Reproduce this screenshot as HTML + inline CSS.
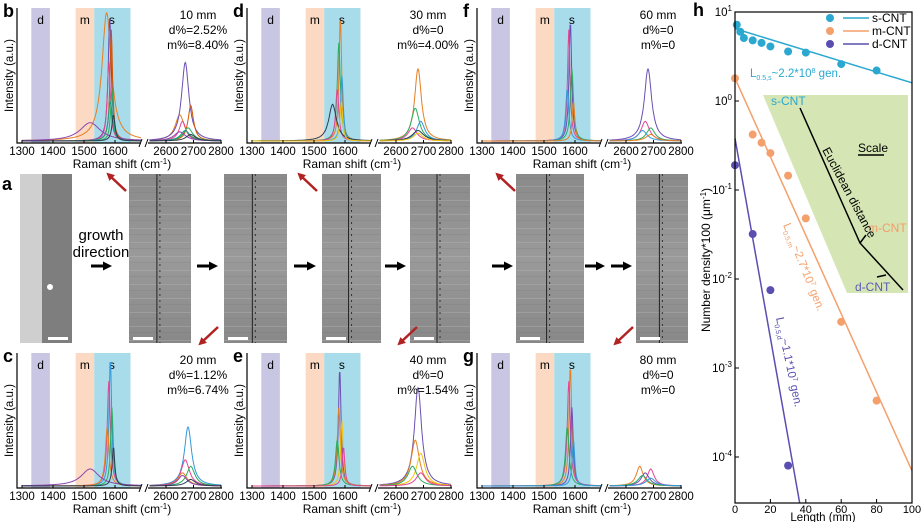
<!DOCTYPE html>
<html><head><meta charset="utf-8">
<style>
body{margin:0;background:#fff;}
svg{display:block;font-family:"Liberation Sans",sans-serif;}
</style></head>
<body>
<svg id="fig" width="924" height="522" viewBox="0 0 924 522">
<defs>
<linearGradient id="sem" x1="0" y1="0" x2="0" y2="1">
<stop offset="0" stop-color="#8a8a8a"/><stop offset="0.5" stop-color="#9a9a9a"/><stop offset="1" stop-color="#888"/>
</linearGradient>
<pattern id="stripes" width="10" height="14" patternUnits="userSpaceOnUse">
<rect width="10" height="14" fill="none"/><rect y="4" width="10" height="1" fill="#bbb" opacity="0.35"/><rect y="10" width="10" height="1" fill="#777" opacity="0.25"/>
</pattern>
<marker id="ah" markerUnits="userSpaceOnUse" markerWidth="9" markerHeight="9" refX="4" refY="4.5" orient="auto"><path d="M0,0L9,4.5L0,9z" fill="#000"/></marker>
<marker id="ahr" markerUnits="userSpaceOnUse" markerWidth="8" markerHeight="8" refX="3" refY="4" orient="auto"><path d="M0,0L8,4L0,8z" fill="#b22222"/></marker>
</defs>
<g id="raman"></g>
<g id="middle"></g>
<g id="panelh"></g>
</svg>
<script>
// ---------- Panel h data ----------
const sLen=[1,3,5,10,15,20,30,40,60,80];
const sVal=[7.2,6.0,5.1,4.8,4.5,4.1,3.6,3.5,2.6,2.2];
const mLen=[0,10,15,20,30,40,60,80];
const mVal=[1.8,0.42,0.34,0.26,0.145,0.048,0.0033,0.00043];
const dLen=[0,10,20,30];
const dVal=[0.19,0.032,0.0075,0.00008];
const sFit=[[0,6.5],[100,1.6]];
const mFit=[[0,1.8],[100,0.00007]];
const dFit=[[0,0.38],[36,0.000035]];
const xTicks=[0,20,40,60,80,100];
const yTickExp=[1,0,-1,-2,-3,-4];

// ---------- Raman panels data ----------
const panelLetters=["b","d","f","c","e","g"];
const panelLengths=["10 mm","30 mm","60 mm","20 mm","40 mm","80 mm"];
const panelD=["d%=2.52%","d%=0","d%=0","d%=1.12%","d%=0","d%=0"];
const panelM=["m%=8.40%","m%=4.00%","m%=0","m%=6.74%","m%=1.54%","m%=0"];
const ramanTicksL=[1300,1400,1500,1600];
const ramanTicksR=[2600,2700,2800];
// spectra: [G position, G height(0-1), G width, 2D position, 2D height, 2D width, color]
const spectraB=[[1573,0.98,18,2650,0.2,20,"#e67e22"],[1583,0.95,6,2670,0.6,16,"#6a4fb5"],[1588,0.85,5,2690,0.27,12,"#d35400"],[1580,0.6,6,2660,0.15,15,"#e84393"],[1590,0.4,5,2680,0.1,20,"#27ae60"],[1585,0.3,8,2670,0.08,20,"#16a085"],[1520,0.14,40,2650,0.07,25,"#8e44ad"],[1595,0.2,6,2690,0.05,20,"#2c3e50"]];
const spectraD=[[1585,0.95,5,2680,0.55,15,"#e67e22"],[1580,0.75,6,2670,0.25,18,"#27ae60"],[1590,0.5,5,2690,0.15,18,"#3498db"],[1575,0.4,6,2660,0.1,20,"#e84393"],[1560,0.28,15,2680,0.08,25,"#2c3e50"],[1588,0.3,5,2680,0.06,20,"#f1c40f"]];
const spectraF=[[1585,0.92,5,2680,0.55,16,"#6a4fb5"],[1580,0.85,5,2670,0.15,18,"#e84393"],[1590,0.55,6,2690,0.1,18,"#27ae60"],[1575,0.4,6,2660,0.08,20,"#3498db"],[1595,0.3,5,2690,0.05,20,"#e67e22"]];
const spectraC=[[1585,0.98,5,2680,0.45,16,"#3498db"],[1580,0.8,6,2670,0.2,18,"#e84393"],[1590,0.6,5,2690,0.15,18,"#27ae60"],[1575,0.45,7,2660,0.1,20,"#e67e22"],[1520,0.13,35,2660,0.08,20,"#8e44ad"],[1595,0.3,5,2690,0.05,20,"#2c3e50"]];
const spectraE=[[1583,0.9,5,2680,0.75,16,"#6a4fb5"],[1580,0.6,6,2670,0.35,18,"#e67e22"],[1590,0.5,5,2690,0.25,18,"#f1c40f"],[1575,0.35,7,2660,0.15,20,"#27ae60"],[1595,0.3,5,2690,0.1,20,"#e84393"]];
const spectraG=[[1585,0.92,5,2650,0.15,15,"#e67e22"],[1580,0.8,6,2690,0.13,15,"#e84393"],[1590,0.6,5,2670,0.1,18,"#6a4fb5"],[1575,0.45,7,2660,0.08,20,"#27ae60"],[1595,0.35,5,2690,0.06,20,"#3498db"]];
const allSpectra=[spectraB,spectraD,spectraF,spectraC,spectraE,spectraG];

const NS="http://www.w3.org/2000/svg";
function mk(parent,tag,attrs,text){const e=document.createElementNS(NS,tag);for(const k in attrs)e.setAttribute(k,attrs[k]);if(text!==undefined)e.textContent=text;parent.appendChild(e);return e;}

// ---------- Raman panels ----------
const ram=document.getElementById('raman');
const offX=[0,230,460,0,230,460], offY=[0,0,0,345,345,345];
for(let p=0;p<6;p++){
  const g=mk(ram,'g',{transform:`translate(${offX[p]},${offY[p]})`});
  
  
  const top=8,bot=143;
  const xl=v=>22+(v-1300)*0.31;
  const xr=v=>166+(v-2600)*0.275;
  const band=(a,b,c,n)=>{const r=mk(g,'rect',{x:xl(a),y:top,width:xl(b)-xl(a),height:bot-top,fill:c});};
  band(1330,1390,'#c9c6e4','d-band');band(1473,1533,'#fbd9c3','m-band');band(1533,1650,'#a9dcea','s-band');
  mk(g,'text',{x:xl(1360),y:24,'font-size':12,'text-anchor':'middle'},'d');
  mk(g,'text',{x:xl(1503),y:24,'font-size':12,'text-anchor':'middle'},'m');
  mk(g,'text',{x:xl(1590),y:24,'font-size':12,'text-anchor':'middle'},'s');
  const h=bot-12;
  for(const s of allSpectra[p]){
    let d1='',d2='';
    for(let v=1300;v<=1685;v+=2){const L=s[1]/(1+((v-s[0])/s[2])**2);d1+=(d1?'L':'M')+xl(v).toFixed(1)+','+(bot-2-L*h).toFixed(1);}
    for(let v=2540;v<=2800;v+=2){const L=s[4]/(1+((v-s[3])/s[5])**2);d2+=(d2?'L':'M')+xr(v).toFixed(1)+','+(bot-2-L*h).toFixed(1);}
    const c1=mk(g,'path',{d:d1,fill:'none',stroke:s[6],'stroke-width':1});
    
    const c2=mk(g,'path',{d:d2,fill:'none',stroke:s[6],'stroke-width':1});
    
  }
  mk(g,'path',{d:`M17,${top}V${bot}H141M148,${bot}H222`,fill:'none',stroke:'#000','stroke-width':1.2});
  mk(g,'path',{d:`M139,${bot+4}l3,-8M145,${bot+4}l3,-8`,stroke:'#000','stroke-width':1});
  for(const t of ramanTicksL){mk(g,'line',{x1:xl(t),x2:xl(t),y1:bot,y2:bot-3,stroke:'#000'});mk(g,'text',{x:xl(t),y:bot+12,'font-size':11.5,'text-anchor':'middle'},t);}
  for(const t of ramanTicksR){mk(g,'line',{x1:xr(t),x2:xr(t),y1:bot,y2:bot-3,stroke:'#000'});mk(g,'text',{x:xr(t),y:bot+12,'font-size':11.5,'text-anchor':'middle'},t);}
  const xt=mk(g,'text',{x:122,y:bot+25,'font-size':12,'text-anchor':'middle'});xt.innerHTML='Raman shift (cm<tspan font-size="8" dy="-4">-1</tspan><tspan dy="4">)</tspan>';
  
  const yt=mk(g,'text',{x:0,y:0,'font-size':11.5,'text-anchor':'middle',transform:`translate(13,${(top+bot)/2}) rotate(-90)`},'Intensity (a.u.)');
  
  mk(g,'text',{x:3,y:17,'font-size':18,'font-weight':'bold'},panelLetters[p]);
  mk(g,'text',{x:198,y:19,'font-size':12,'text-anchor':'middle'},panelLengths[p]);
  mk(g,'text',{x:198,y:34,'font-size':12,'text-anchor':'middle'},panelD[p]);
  mk(g,'text',{x:198,y:49,'font-size':12,'text-anchor':'middle'},panelM[p]);
}

// ---------- Middle SEM row ----------
const mid=document.getElementById('middle');
mk(mid,'text',{x:2,y:190,'font-size':18,'font-weight':'bold'},'a');
const imgs=[[20,72],[129,191],[224,287],[322,381],[410,470],[516,584],[636,688]];
imgs.forEach((im,i)=>{
  const r=mk(mid,'rect',{x:im[0],y:174,width:im[1]-im[0],height:169,fill:'url(#sem)'});
  
  mk(mid,'rect',{x:im[0],y:174,width:im[1]-im[0],height:169,fill:'url(#stripes)'});
  if(i===0){mk(mid,'rect',{x:20,y:174,width:22,height:169,fill:'#cfcfcf'});mk(mid,'rect',{x:42,y:174,width:30,height:169,fill:'#7e7e7e'});mk(mid,'circle',{cx:50,cy:287,r:3,fill:'#fff'});}
  else{const cx=im[0]+(im[1]-im[0])*0.45;mk(mid,'line',{x1:cx,x2:cx,y1:174,y2:343,stroke:'#222','stroke-width':1});mk(mid,'line',{x1:cx+3,x2:cx+3,y1:174,y2:343,stroke:'#333','stroke-width':1,'stroke-dasharray':'2,4'});}
  mk(mid,'rect',{x:im[0]+(i===0?28:4),y:337,width:20,height:3,fill:'#fff'});
});
mk(mid,'text',{x:101,y:240,'font-size':15,'text-anchor':'middle'},'growth');
mk(mid,'text',{x:101,y:257,'font-size':15,'text-anchor':'middle'},'direction');
[[91,112],[197,218],[294,316],[385,406],[492,513],[585,605],[611,632]].forEach(a=>{
  const l=mk(mid,'line',{x1:a[0],x2:a[1]-5,y1:266,y2:266,stroke:'#000','stroke-width':3,'marker-end':'url(#ah)'});
  
});
[[126,191,110,176],[317,191,301,176],[515,191,499,176],[218,327,202,342],[417,327,401,342],[633,327,617,342]].forEach(a=>{
  const l=mk(mid,'line',{x1:a[0],y1:a[1],x2:a[2],y2:a[3],stroke:'#b22222','stroke-width':2.5,'marker-end':'url(#ahr)'});
  
});

// ---------- Panel h ----------
const H=document.getElementById('panelh');
const X0=735,X1=912,Ytop=12,dec=89;
const xs=v=>X0+(X1-X0)*v/100;
const ys=v=>Ytop+(1-Math.log10(v))*dec;
const Ybot=503;
mk(H,'text',{x:693,y:16,'font-size':18,'font-weight':'bold'},'h');
const gr=mk(H,'path',{d:'M763,95H908V293H847Z',fill:'#d5e6b4'});

mk(H,'path',{d:'M800,108L860,243L903,290M860,243l6,-8M886,275l-9,2',fill:'none',stroke:'#000','stroke-width':1.5});
mk(H,'text',{x:771,y:105,'font-size':12,fill:'#2aa8d0'},'s-CNT');
mk(H,'text',{x:868,y:232,'font-size':12,fill:'#f39c6b'},'m-CNT');
mk(H,'text',{x:855,y:291,'font-size':12,fill:'#5b5bb7'},'d-CNT');
mk(H,'text',{x:858,y:152,'font-size':12},'Scale');
mk(H,'line',{x1:858,x2:884,y1:155,y2:155,stroke:'#000','stroke-width':1.5});
mk(H,'text',{x:0,y:0,'font-size':12,transform:'translate(822,150) rotate(62)'},'Euclidean distance');
function series(len,val,fit,color,name){
  const f=mk(H,'line',{x1:xs(fit[0][0]),y1:ys(fit[0][1]),x2:xs(fit[1][0]),y2:Math.min(ys(fit[1][1]),Ybot),stroke:color,'stroke-width':1.5});
  
  len.forEach((l,i)=>{
    const c=mk(H,'circle',{cx:xs(l),cy:ys(val[i]),r:4,fill:color});
    
  });
}
series(sLen,sVal,sFit,'#2aa8d0','s-cnt');
series(mLen,mVal,mFit,'#f4a06c','m-cnt');
const dEndY=Ybot, t=(Math.log10(dFit[0][1])-(1-(dEndY-Ytop)/dec))/(Math.log10(dFit[0][1])-Math.log10(dFit[1][1]));
series(dLen,dVal,[dFit[0],[dFit[0][0]+t*(dFit[1][0]-dFit[0][0]),Math.pow(10,1-(dEndY-Ytop)/dec)]],'#5a4fb0','d-cnt');
mk(H,'rect',{x:X0,y:Ytop,width:X1-X0,height:Ybot-Ytop,fill:'none',stroke:'#000','stroke-width':1.2});
xTicks.forEach(t=>{mk(H,'line',{x1:xs(t),x2:xs(t),y1:Ybot,y2:Ybot-4,stroke:'#000'});mk(H,'text',{x:xs(t),y:Ybot+10,'font-size':11,'text-anchor':'middle'},t);});
yTickExp.forEach(e=>{const y=Ytop+(1-e)*dec;mk(H,'line',{x1:X0,x2:X0+4,y1:y,y2:y,stroke:'#000'});const tx=mk(H,'text',{x:X0-3,y:y+4,'font-size':11.5,'text-anchor':'end'});tx.innerHTML='10<tspan font-size="8" dy="-5">'+e+'</tspan>';});
mk(H,'text',{x:823,y:521,'font-size':11.5,'text-anchor':'middle'},'Length (mm)');
const yt=mk(H,'text',{x:0,y:0,'font-size':12,'text-anchor':'middle',transform:'translate(710,260) rotate(-90)'});yt.innerHTML='Number density*100 (μm<tspan font-size="8" dy="-4">-1</tspan><tspan dy="4">)</tspan>';
[['s-CNT','#2aa8d0',22],['m-CNT','#f4a06c',35],['d-CNT','#5a4fb0',48]].forEach(l=>{
  const g=mk(H,'g',{});
  mk(g,'circle',{cx:830,cy:l[2]-4,r:4,fill:l[1]});
  mk(g,'line',{x1:843,x2:869,y1:l[2]-4,y2:l[2]-4,stroke:l[1],'stroke-width':1.5});
  mk(g,'text',{x:872,y:l[2],'font-size':12},l[0]);
});
let a=mk(H,'text',{x:750,y:77,'font-size':11.5,fill:'#2aa8d0'});a.innerHTML='L<tspan font-size="7" dy="3">0.5,s</tspan><tspan dy="-3">~2.2*10</tspan><tspan font-size="7" dy="-4">8</tspan><tspan dy="4"> gen.</tspan>';
a=mk(H,'text',{x:0,y:0,'font-size':11.5,fill:'#f4a06c',transform:'translate(783,225) rotate(68)'});a.innerHTML='L<tspan font-size="7" dy="3">0.5,m</tspan><tspan dy="-3">~2.7*10</tspan><tspan font-size="7" dy="-4">7</tspan><tspan dy="4"> gen.</tspan>';
a=mk(H,'text',{x:0,y:0,'font-size':11.5,fill:'#5a4fb0',transform:'translate(776,318) rotate(78)'});a.innerHTML='L<tspan font-size="7" dy="3">0.5,d</tspan><tspan dy="-3">~1.1*10</tspan><tspan font-size="7" dy="-4">7</tspan><tspan dy="4"> gen.</tspan>';
</script>
</body></html>
